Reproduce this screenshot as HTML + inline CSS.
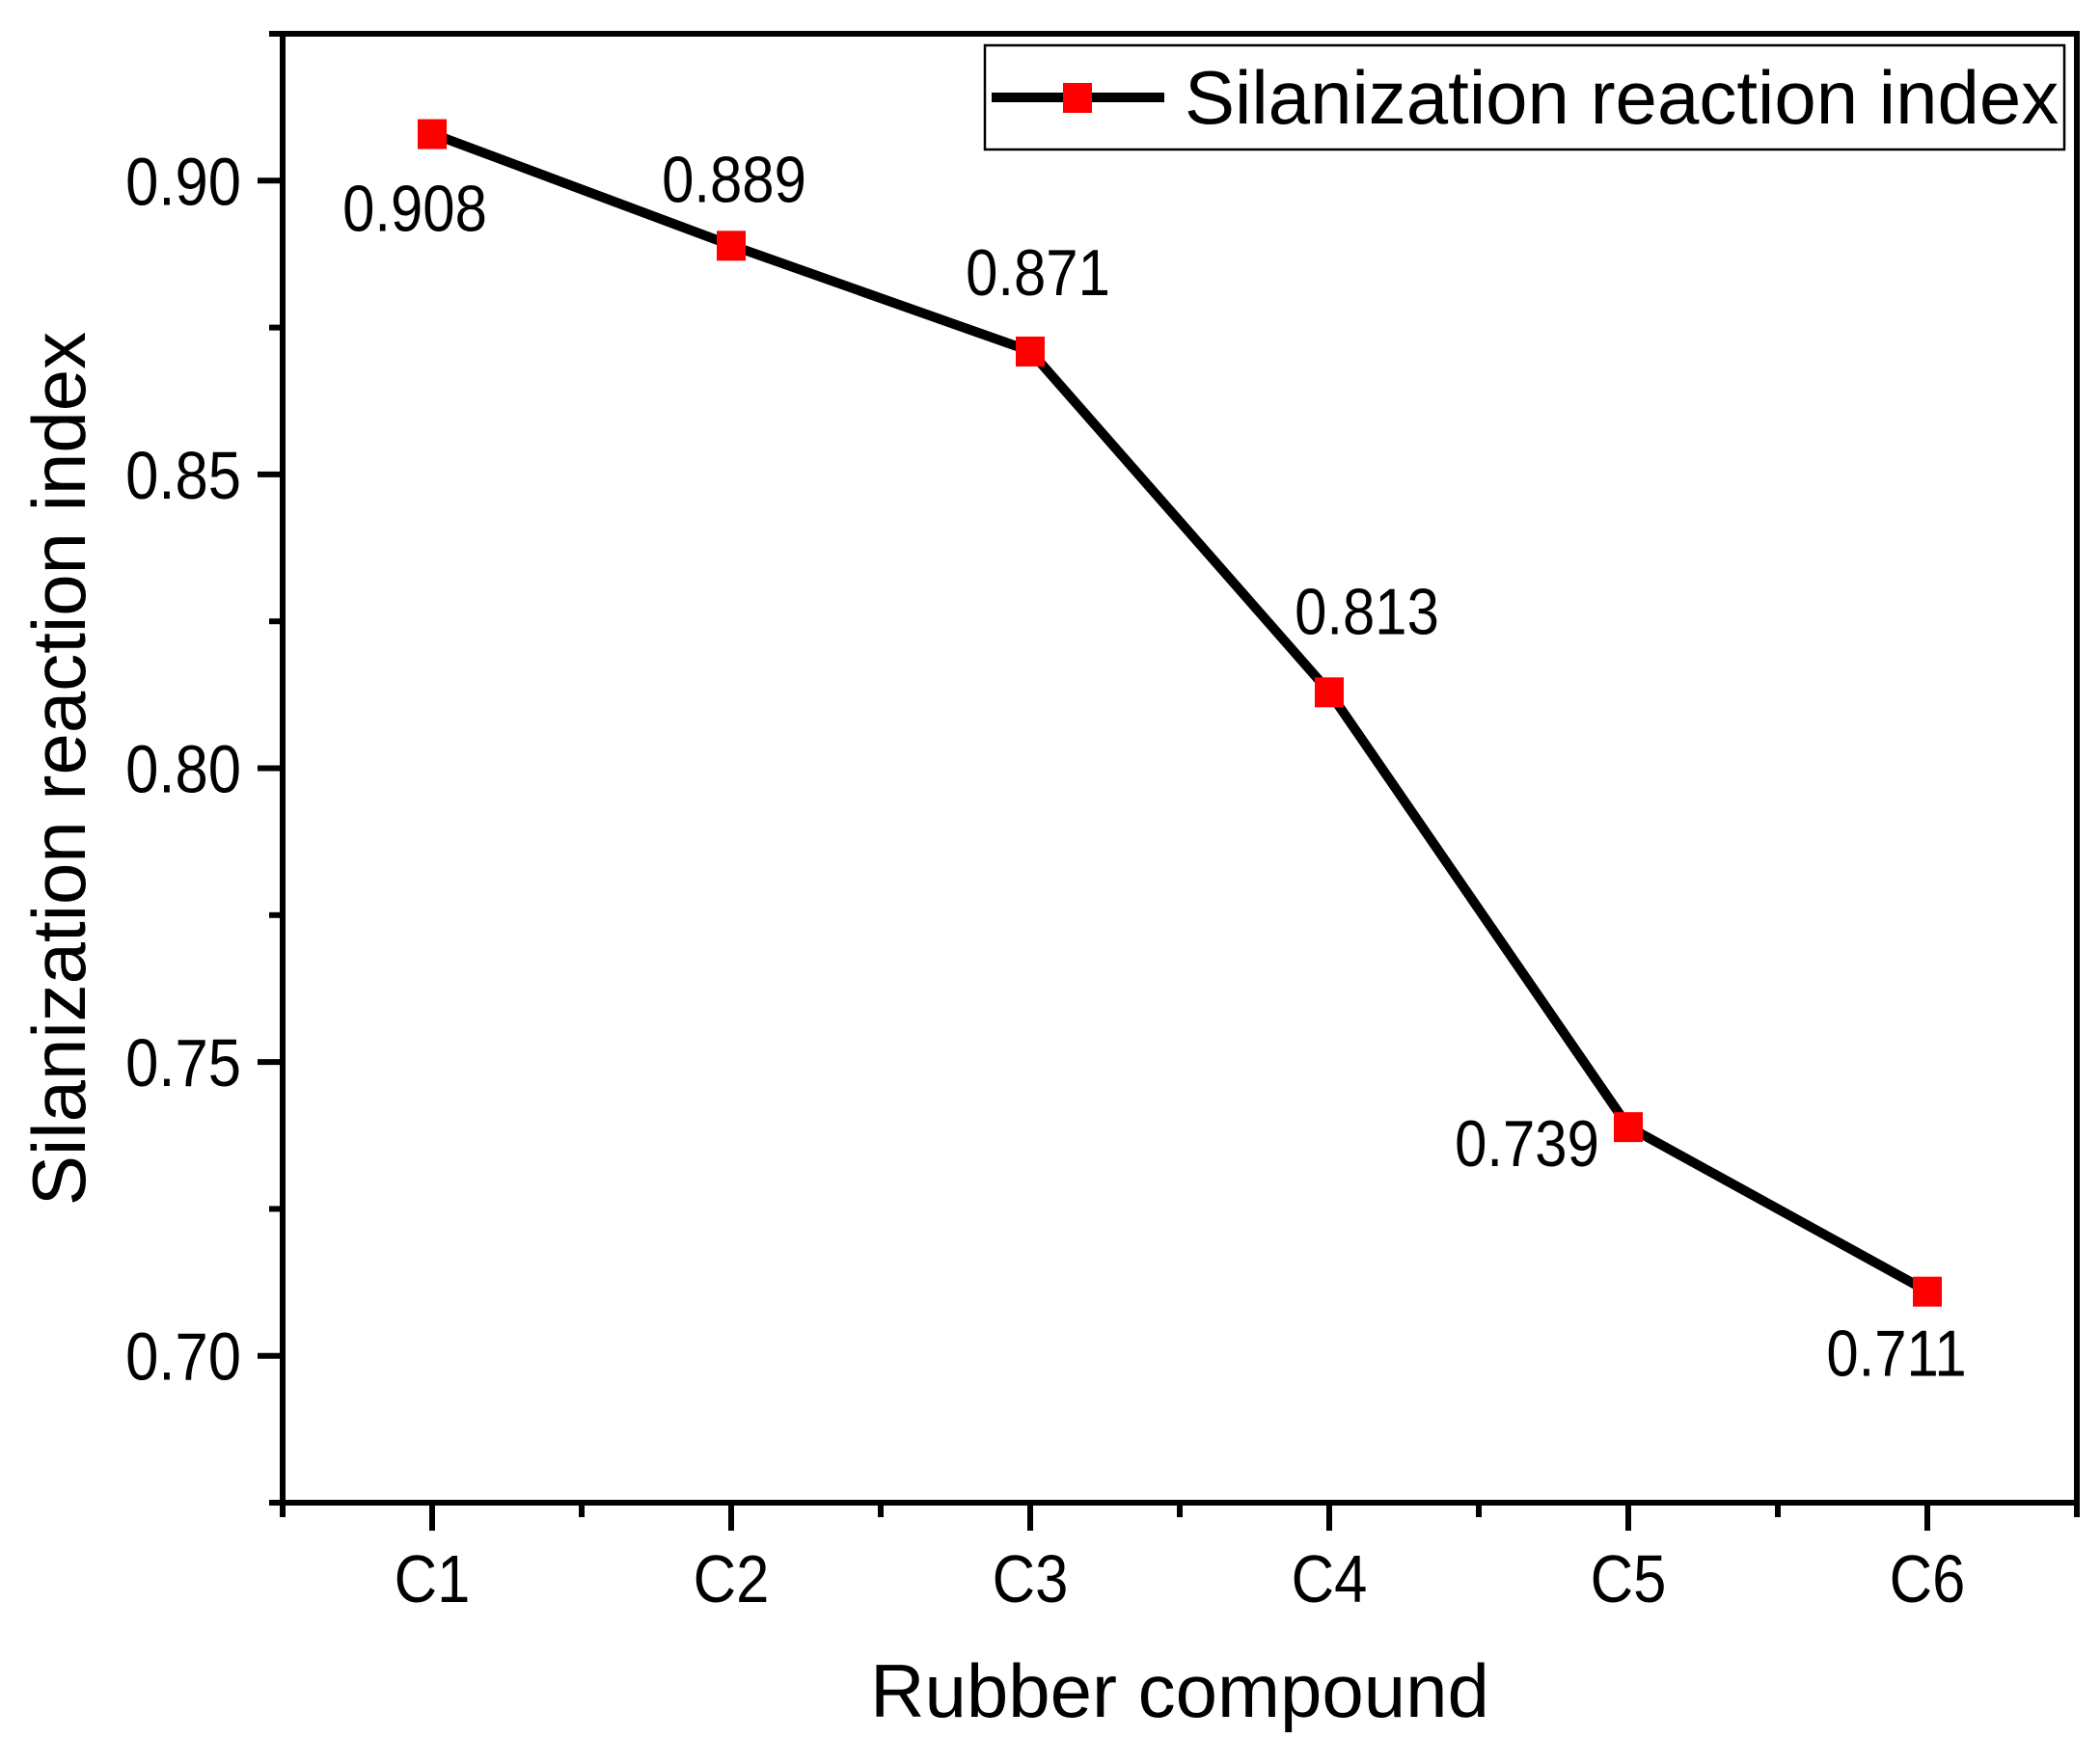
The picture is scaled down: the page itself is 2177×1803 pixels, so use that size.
<!DOCTYPE html>
<html><head><meta charset="utf-8"><style>
html,body{margin:0;padding:0;background:#fff;}
svg{display:block;font-family:"Liberation Sans",Arial,sans-serif;}
</style></head><body>
<svg id="chart" width="2177" height="1803" viewBox="0 0 2177 1803" xmlns="http://www.w3.org/2000/svg"></svg>
<script>
const categories = ["C1","C2","C3","C4","C5","C6"];
const values = [0.908,0.889,0.871,0.813,0.739,0.711];
const valueLabels = ["0.908","0.889","0.871","0.813","0.739","0.711"];
const yTicks = [0.70,0.75,0.80,0.85,0.90];
const yTickLabels = ["0.70","0.75","0.80","0.85","0.90"];
const yMinorTicks = [0.675,0.725,0.775,0.825,0.875,0.925];
// label offsets relative to point (layout only)
const labelDx = [-18,3,8,39,-105,-32];
const labelDy = [101,-45,-58,-60,41,88];

const L=293,R=2153,T=35,B=1558;
const yMin=0.675,yMax=0.925;
const xMin=0.5,xMax=6.5;
const sx=v=>L+(v-xMin)/(xMax-xMin)*(R-L);
const sy=v=>B-(v-yMin)/(yMax-yMin)*(B-T);
const NS="http://www.w3.org/2000/svg";
const svg=document.getElementById('chart');
function mk(tag,attrs,parent){const e=document.createElementNS(NS,tag);for(const k in attrs)e.setAttribute(k,attrs[k]);(parent||svg).appendChild(e);return e;}
function ntext(x,y,size,anchor,str,parent){
  return mk('text',{x:0,y:0,'font-size':size,'text-anchor':anchor,fill:'#000',transform:`translate(${x},${y}) scale(0.88,1)`},parent);
}

// frame
let e=mk('rect',{x:L,y:T,width:R-L,height:B-T,fill:'none',stroke:'#000','stroke-width':6});



yTicks.forEach((v,i)=>{
  let t=mk('line',{x1:L-26,x2:L,y1:sy(v),y2:sy(v),stroke:'#000','stroke-width':6});
  
  
  let lb=ntext(250,sy(v)+25,70,'end');
  lb.textContent=yTickLabels[i];
  
  
});
yMinorTicks.forEach(v=>{
  let t=mk('line',{x1:L-14,x2:L,y1:sy(v),y2:sy(v),stroke:'#000','stroke-width':6});
  
  
});
categories.forEach((c,i)=>{
  const x=sx(i+1);
  let t=mk('line',{x1:x,x2:x,y1:B,y2:B+29,stroke:'#000','stroke-width':6});
  
  
  let lb=ntext(x,1661,70,'middle');
  lb.textContent=c;
  
  
});
for(let k=0;k<=categories.length;k++){
  const x=sx(k+0.5);
  let t=mk('line',{x1:x,x2:x,y1:B,y2:B+15,stroke:'#000','stroke-width':6});
  
  
}

const pts=values.map((v,i)=>sx(i+1)+','+sy(v)).join(' ');
e=mk('polyline',{points:pts,fill:'none',stroke:'#000','stroke-width':10,'stroke-linejoin':'round'});


values.forEach((v,i)=>{
  const x=sx(i+1),y=sy(v);
  let m=mk('rect',{x:x-15,y:y-15,width:30,height:31,fill:'#ff0000'});
  
  
  let lb=ntext(x+labelDx[i],y+labelDy[i],68,'middle');
  lb.textContent=valueLabels[i];
  
  
});

e=mk('text',{x:1223,y:1780,'font-size':78,'text-anchor':'middle',fill:'#000'});
e.textContent='Rubber compound';


e=mk('text',{x:0,y:0,'font-size':78,'text-anchor':'middle',fill:'#000',transform:'translate(88,797) rotate(-90)'});
e.textContent='Silanization reaction index';



const lg=mk('g',{});


e=mk('rect',{x:1021,y:47,width:1119,height:108,fill:'#fff',stroke:'#000','stroke-width':2.5},lg);


e=mk('line',{x1:1028,x2:1207,y1:101,y2:101,stroke:'#000','stroke-width':10},lg);


e=mk('rect',{x:1102,y:86,width:30,height:31,fill:'#ff0000'},lg);


e=mk('text',{x:1228,y:128,'font-size':78,fill:'#000'},lg);
e.textContent='Silanization reaction index';


</script>
</body></html>
